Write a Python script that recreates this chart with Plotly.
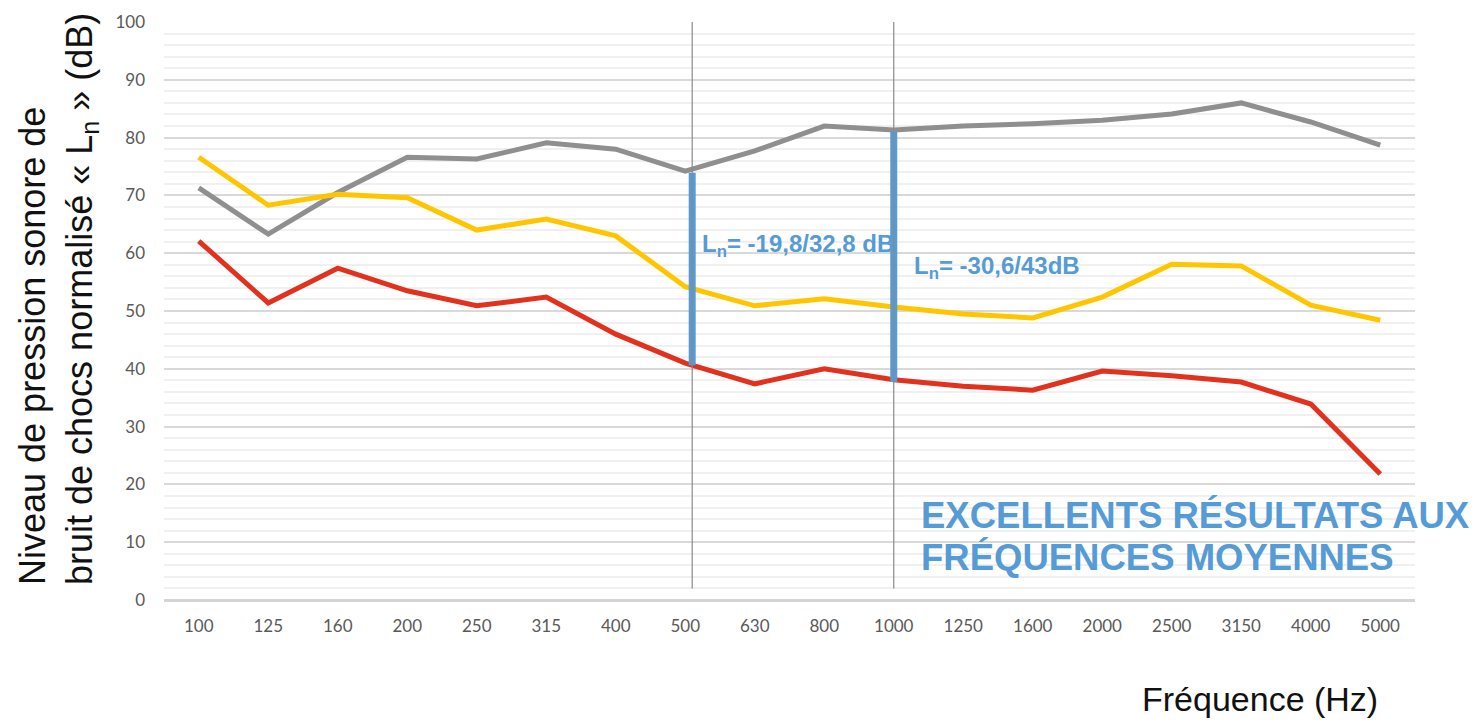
import plotly.graph_objects as go

freqs = ["100", "125", "160", "200", "250", "315", "400", "500", "630", "800",
         "1000", "1250", "1600", "2000", "2500", "3150", "4000", "5000"]
gray_vals = [71.3, 63.3, 70.5, 76.6, 76.3, 79.1, 78.0, 74.2, 77.7, 82.0,
             81.3, 82.0, 82.4, 83.0, 84.1, 86.0, 82.7, 78.7]
yellow_vals = [76.6, 68.3, 70.2, 69.6, 64.0, 65.9, 63.0, 54.2, 50.9, 52.1,
               50.7, 49.5, 48.8, 52.4, 58.1, 57.8, 51.0, 48.4]
red_vals = [62.1, 51.4, 57.4, 53.5, 50.9, 52.4, 46.0, 41.0, 37.4, 40.0,
            38.1, 37.0, 36.3, 39.6, 38.8, 37.7, 33.9, 21.8]
y_ticks = [0, 10, 20, 30, 40, 50, 60, 70, 80, 90, 100]

# Highlighted frequencies (index in freqs), with small visual offset on the axis
marks_idx = [7, 10]
marks_pos = [7.1, 10.0]
marks_text = ["L<sub>n</sub>= -19,8/32,8 dB", "L<sub>n</sub>= -30,6/43dB"]

x = list(range(len(freqs)))
BLUE = "#559bd6"

# page geometry (the page body adds an 8px offset)
OFF = 8
W, H = 1464, 710
L, T = 164 - OFF, 22 - OFF
R = W - (1415 - OFF)
B = H - (600 - OFF)
pw, ph = W - L - R, H - T - B


def px(xp):
    return (xp - OFF - L) / pw


def py(yp):
    return (H - B - (yp - OFF)) / ph


fig = go.Figure()
for vals, col in [(gray_vals, "#8f8f8f"), (yellow_vals, "#ffc600"), (red_vals, "#e2311d")]:
    fig.add_trace(go.Scatter(x=x, y=vals, mode="lines",
                             line=dict(color=col, width=5),
                             showlegend=False, hoverinfo="skip"))

# thin gray vertical reference lines
for p in marks_pos:
    fig.add_shape(type="line", xref="x", yref="y", x0=p, x1=p, y0=2, y1=100.3,
                  line=dict(color="#8a8a8a", width=1.2), layer="above")

# blue bars between gray and red curves
for i, p in zip(marks_idx, marks_pos):
    fig.add_trace(go.Scatter(x=[p, p], y=[gray_vals[i] - 0.3, red_vals[i] - 0.4],
                             mode="lines", line=dict(color=BLUE, width=7),
                             showlegend=False, hoverinfo="skip"))

fig.add_annotation(x=px(700), y=py(245), xref="paper", yref="paper", text=marks_text[0],
                   showarrow=False, xanchor="left", yanchor="middle",
                   font=dict(family="Liberation Sans", size=24, color=BLUE, weight="bold"))
fig.add_annotation(x=px(912), y=py(267), xref="paper", yref="paper", text=marks_text[1],
                   showarrow=False, xanchor="left", yanchor="middle",
                   font=dict(family="Liberation Sans", size=24, color=BLUE, weight="bold"))

for txt, yp in [("EXCELLENTS RÉSULTATS AUX", 515), ("FRÉQUENCES MOYENNES", 557)]:
    fig.add_annotation(x=px(919), y=py(yp), xref="paper", yref="paper",
                       text=txt, showarrow=False, xanchor="left", yanchor="middle",
                       font=dict(family="Liberation Sans", size=36.5, color=BLUE, weight="bold"))

fig.add_annotation(x=px(10), y=py(299), xref="paper", yref="paper",
                   text="Niveau de pression sonore de<br>bruit de chocs normalisé « L<sub>n</sub> » (dB)",
                   textangle=-90, showarrow=False, xanchor="left", yanchor="middle",
                   align="left",
                   font=dict(family="Liberation Sans", size=36, color="#111111"))
fig.add_annotation(x=px(1380), y=py(699), xref="paper", yref="paper",
                   text="Fréquence (Hz)", showarrow=False, xanchor="right", yanchor="middle",
                   font=dict(family="Liberation Sans", size=34, color="#111111"))

fig.update_layout(
    width=W, height=H,
    margin=dict(l=L, r=R, t=T, b=B, autoexpand=False),
    paper_bgcolor="white", plot_bgcolor="white",
    xaxis=dict(range=[-0.5, 17.5], tickvals=x, ticktext=freqs, showgrid=False,
               zeroline=False, showline=False, ticks="", ticklabelstandoff=14,
               automargin=False,
               tickfont=dict(family="Lato", size=17, color="#595959")),
    yaxis=dict(range=[0, 100], tickvals=y_ticks, showgrid=True, gridcolor="#d9d9d9",
               gridwidth=1.5, zeroline=True, zerolinecolor="#d4d4d4", zerolinewidth=3,
               showline=False, ticks="", ticklabelstandoff=18, automargin=False,
               tickfont=dict(family="Lato", size=17, color="#595959"),
               minor=dict(dtick=2, showgrid=True, gridcolor="#f0f0f0", gridwidth=1.5)),
)

fig.write_html("out.html")
